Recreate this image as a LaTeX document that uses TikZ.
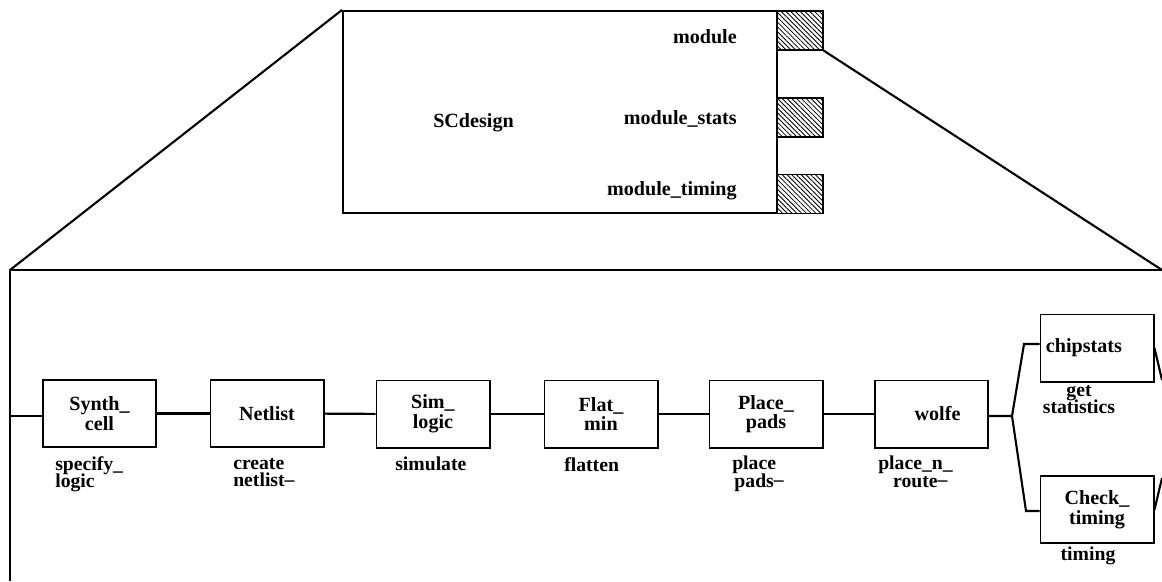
\documentclass[tikz,border=0pt]{standalone}
\usepackage{fontspec}
\setmainfont{Liberation Serif}
\usetikzlibrary{patterns.meta}
\lineskiplimit=-20pt
% raised stroke printed after a wrapped word
\newcommand{\hibar}{\rlap{\raisebox{0.85ex}{\_}}}
\tikzset{
  stage/.style={draw, line width=1.4pt, minimum width=2.825cm, minimum height=1.675cm,
    align=center, inner sep=0pt, font=\bfseries\fontsize{14.3}{14}\selectfont},
  port/.style={draw, line width=1.2pt, pattern={Lines[angle=-45, distance=2.4pt, line width=0.6pt]},
    minimum width=1.15cm, minimum height=0.975cm, inner sep=0pt},
  task/.style={align=left, inner sep=0pt, font=\bfseries\fontsize{14}{12.5}\selectfont},
  portname/.style={inner sep=0pt, font=\bfseries\fontsize{14.3}{15}\selectfont},
  wire/.style={line width=1.5pt}
}
\begin{document}
\begin{tikzpicture}[x=0.025cm,y=-0.025cm]
\useasboundingbox (0,0) rectangle (1162,581);
% the module block
\node[draw, line width=1.4pt, minimum width=10.85cm, minimum height=5.05cm, inner sep=0pt] (scd) at (560,112) {};
  \node[portname, anchor=base west] (scname) at (433,127) {SCdesign};
  \node[port] (pmod) at (800,30.5) {};
  \node[port] (pstat) at (800,117.5) {};
  \node[port] (ptime) at (800,194) {};
  \node[portname, anchor=base east] (lmod) at (737,43) {module};
  \node[portname, anchor=base east] (lstat) at (737,124) {module\_stats};
  \node[portname, anchor=base east] (ltime) at (737,195) {module\_timing};
% the expanded view
\coordinate (cl) at (10,270);
\coordinate (cr) at (1162,270);
\coordinate (cb) at (10,581);
\draw[wire] (scd.north west) -- (cl);
\draw[wire] (pmod.south east) -- (cr);
\draw[wire] (cb) -- (cl) -- (cr);
  \node[stage] (synth) at (99.5,413.5) {Synth\_\\cell};
  \node[stage] (netlist) at (267,413.5) {Netlist};
  \node[stage] (sim) at (433,414) {Sim\_\\logic};
  \node[stage] (flat) at (601,414) {Flat\_\\min};
  \node[stage] (pads) at (766,414) {Place\_\\pads};
  \node[stage] (wolfe) at (931.5,414) {\hspace{0.6em}wolfe};
  \node[stage] (chip) at (1097,348) {chipstats\hspace{1.3em}};
  \node[stage] (check) at (1097,509.5) {Check\_\\timing};
  \node[task, anchor=north west] (tspec) at (55,456) {specify\_\\logic};
  \node[task, anchor=north west] (tnet) at (233,458) {create\\netlist\hibar};
  \node[task, anchor=north west] (tsim) at (395,457) {simulate};
  \node[task, anchor=north west] (tflat) at (564,457) {flatten};
  \node[task, anchor=north west, align=center] (tpads) at (732,456) {place\\pads\hibar};
  \node[task, anchor=north west, align=center] (troute) at (878,456) {place\_n\_\\route\hibar};
  \node[task, anchor=north, align=center] (tstat) at (1079,385) {get\\statistics};
  \node[task, anchor=base] (ttime) at (1088,560) {timing};
\coordinate (fl) at (10,416);
\draw[wire] (fl) -- (synth.west |- fl);
\draw[wire] (synth) -- (netlist);
\draw[wire] (netlist) -- (sim);
\draw[wire] (sim) -- (flat);
\draw[wire] (flat) -- (pads);
\draw[wire] (pads) -- (wolfe);
\coordinate (fork) at (1012,416);
\coordinate (up) at (1024,344);
\coordinate (dn) at (1026,511);
\draw[wire] (wolfe.east |- fork) -- (fork) -- (up) -- (chip.west |- up);
\draw[wire] (fork) -- (dn) -- (check.west |- dn);
\coordinate (jr1) at (1162,380);
\coordinate (jr2) at (1162,478);
\draw[wire] (chip.east) -- (jr1);
\draw[wire] (check.east) -- (jr2);
\end{tikzpicture}
\end{document}
